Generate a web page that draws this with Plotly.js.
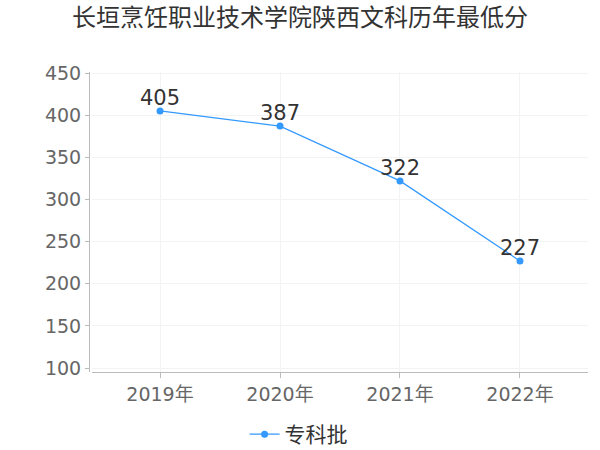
<!DOCTYPE html>
<html><head><meta charset="utf-8">
<script src="https://cdn.plot.ly/plotly-3.0.1.min.js"></script>
<style>html,body{margin:0;padding:0;background:#fff}#c{width:600px;height:450px}</style>
</head><body><div id="c"></div>
<script>
const categories = ['2019年','2020年','2021年','2022年'];
const scores = [405, 387, 322, 227];
const seriesName = '专科批';
const chartTitle = '长垣烹饪职业技术学院陕西文科历年最低分';
const yTicks = [100,150,200,250,300,350,400,450];

const FONT = 'DejaVu Sans, Noto Sans CJK SC, sans-serif';
const trace = {
  x: categories, y: scores, name: seriesName, type: 'scatter', mode: 'lines+markers',
  line: {color: '#3399ff', width: 1.2},
  marker: {color: '#3399ff', size: 7},
  cliponaxis: false
};
const annotations = categories.map((c, i) => ({
  x: c, y: scores[i], xref: 'x', yref: 'y', text: String(scores[i]),
  showarrow: false, yanchor: 'middle', yshift: 13,
  font: {size: 21, color: '#333', family: FONT}
}));
const layout = {
  width: 600, height: 450,
  margin: {l: 89, r: 12, t: 72, b: 78, autoexpand: false},
  paper_bgcolor: '#fff', plot_bgcolor: '#fff',
  font: {family: FONT, color: '#333'},
  title: {text: chartTitle, x: 0.5, xanchor: 'center', y: 0.96, yanchor: 'middle',
          font: {size: 24, color: '#333', family: FONT}},
  xaxis: {type: 'category', range: [-0.567, 3.567], domain: [0.006, 1],
          showline: true, linecolor: '#bbb', linewidth: 1,
          ticks: 'outside', ticklen: 5, tickcolor: '#bbb',
          showgrid: true, gridcolor: '#f3f3f3', automargin: false,
          tickfont: {size: 19, color: '#666', family: FONT}, fixedrange: true},
  yaxis: {range: [95.25, 451.2], tickvals: yTicks, anchor: 'free', position: 0,
          showline: true, linecolor: '#bbb', linewidth: 1,
          ticks: 'outside', ticklen: 4, tickcolor: '#bbb', automargin: false,
          showgrid: true, gridcolor: '#f3f3f3', zeroline: false,
          tickfont: {size: 19, color: '#666', family: FONT}},
  annotations: annotations,
  showlegend: true,
  legend: {orientation: 'h', x: 0.42, xanchor: 'center', y: -0.14, yanchor: 'top',
           font: {size: 21, color: '#333', family: FONT}}
};
Plotly.newPlot('c', [trace], layout, {displayModeBar: false, staticPlot: true});
</script></body></html>
